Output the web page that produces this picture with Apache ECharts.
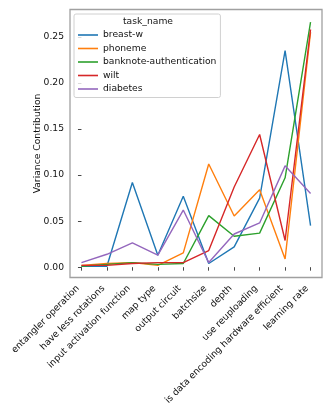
<!DOCTYPE html>
<html>
<head>
<meta charset="utf-8">
<script src="https://cdn.jsdelivr.net/npm/echarts@6/dist/echarts.min.js"></script>
<style>
  html, body { margin: 0; padding: 0; background: #fff; }
  #main { width: 332px; height: 415px; }
</style>
</head>
<body>
<div id="main"></div>
<script>
var categories = [
  'entangler operation', 'have less rotations', 'input activation function',
  'map type', 'output circuit', 'batchsize', 'depth', 'use reuploading',
  'is data encoding hardware efficient', 'learning rate'
];
var taskNames = ['breast-w', 'phoneme', 'banknote-authentication', 'wilt', 'diabetes'];
var breastW   = [0.001, 0.001, 0.092, 0.013, 0.077, 0.004, 0.022, 0.075, 0.235, 0.045];
var phoneme   = [0.002, 0.004, 0.005, 0.002, 0.0155, 0.112, 0.0556, 0.084, 0.009, 0.255];
var banknote  = [0.001, 0.003, 0.005, 0.003, 0.004, 0.056, 0.0336, 0.037, 0.097, 0.266];
var wilt      = [0.002, 0.002, 0.004, 0.005, 0.005, 0.018, 0.087, 0.144, 0.029, 0.258];
var diabetes  = [0.005, 0.014, 0.0263, 0.013, 0.062, 0.005, 0.036, 0.048, 0.110, 0.080];
var yTicks = [0, 0.05, 0.10, 0.15, 0.20, 0.25];

var colors = ['#1f77b4', '#ff7f0e', '#2ca02c', '#d62728', '#9467bd'];
var font = 'DejaVu Sans';

function pairs(vals) {
  var out = [];
  for (var i = 0; i < vals.length; i++) {
    out.push([i, vals[i]]);
  }
  return out;
}

var allSeries = [breastW, phoneme, banknote, wilt, diabetes];
var series = [];
for (var k = 0; k < allSeries.length; k++) {
  series.push({
    name: taskNames[k],
    type: 'line',
    data: pairs(allSeries[k]),
    symbol: 'none',
    lineStyle: { width: 1.4 },
    z: 2 + k
  });
}

var xIdx = [];
for (var i = 0; i < categories.length; i++) xIdx.push(i);

var chart = echarts.init(document.getElementById('main'));
chart.setOption({
  animation: false,
  color: colors,
  textStyle: { fontFamily: font },
  grid: {
    left: 70, top: 9.5, right: 10, bottom: 137.5,
    show: true, borderColor: '#a0a0a0', borderWidth: 1.3,
    containLabel: false
  },
  xAxis: {
    type: 'value',
    min: -0.45, max: 9.45,
    axisLine: { show: false },
    splitLine: { show: false },
    axisTick: {
      show: true, customValues: xIdx, length: 3.5,
      lineStyle: { color: '#333', width: 0.9 }
    },
    axisLabel: {
      customValues: xIdx,
      rotate: 45, margin: 6,
      padding: [0, 5, 0, 0],
      fontSize: 9.2, color: '#111', fontFamily: font,
      formatter: function (v) { return categories[Math.round(v)]; }
    }
  },
  yAxis: {
    type: 'value',
    min: -0.0112, max: 0.2797,
    name: 'Variance Contribution',
    nameLocation: 'middle',
    nameGap: 28,
    nameMoveOverlap: false,
    nameTextStyle: { fontSize: 9.2, color: '#111', fontFamily: font },
    axisLine: { show: false },
    splitLine: { show: false },
    axisTick: {
      show: true, customValues: yTicks, length: 3.5,
      lineStyle: { color: '#333', width: 0.9 }
    },
    axisLabel: {
      customValues: yTicks,
      margin: 6,
      fontSize: 9.2, color: '#111', fontFamily: font,
      formatter: function (v) { return v.toFixed(2); }
    }
  },
  legend: {
    orient: 'vertical',
    left: 74, top: 14,
    data: taskNames,
    icon: 'rect',
    itemWidth: 20, itemHeight: 1.6,
    itemGap: 1.5,
    padding: [15, 4, 2.5, 4],
    backgroundColor: 'rgba(255,255,255,0.8)',
    borderColor: '#d0d0d0', borderWidth: 1, borderRadius: 2,
    textStyle: { fontSize: 9.2, color: '#111', fontFamily: font, lineHeight: 12 },
    z: 10
  },
  graphic: [{
    type: 'text',
    style: {
      text: 'task_name',
      x: 148, y: 21.7,
      align: 'center', verticalAlign: 'middle',
      font: '9.2px "DejaVu Sans"', fill: '#111'
    },
    z: 20
  }],
  series: series
});
</script>
</body>
</html>
